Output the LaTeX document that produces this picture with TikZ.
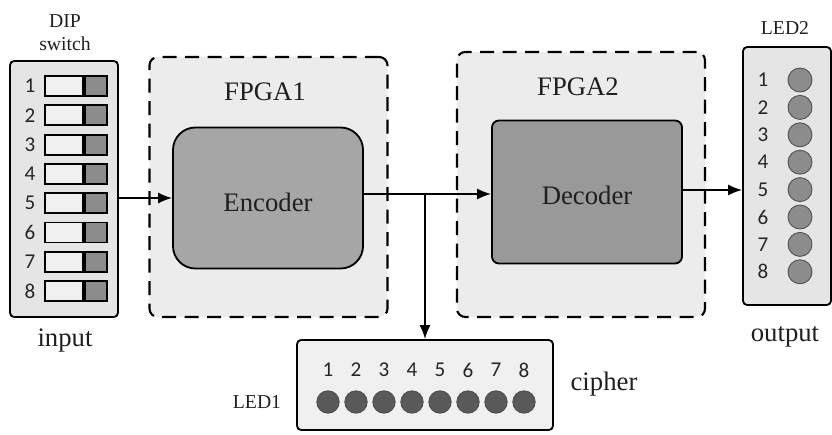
\documentclass[tikz,border=0pt]{standalone}
\usepackage{fontspec}
\setmainfont{Liberation Serif}
\newfontfamily\numfont{Carlito}
\usepackage{tikz}
\usetikzlibrary{arrows.meta, positioning}

\begin{document}
\begin{tikzpicture}[
  x=0.025cm, y=-0.025cm,
  line width=1.3pt,
  lbl/.style={font=\fontsize{19}{22}\selectfont, text=black!88},
  small/.style={font=\fontsize{14}{16.5}\selectfont, text=black!88, align=center},
  num/.style={font=\numfont\fontsize{15}{17}\selectfont, text=black!85},
  panel/.style={draw, rounded corners=3pt, fill=gray!20, inner sep=0pt},
  fpga/.style={draw, dash pattern=on 10pt off 6pt, line width=1.5pt,
               rounded corners=6pt, fill=gray!15, inner sep=0pt},
  block/.style={draw, fill=gray!70, inner sep=0pt, minimum width=4.75cm},
  swoff/.style={draw, fill=gray!12, minimum width=0.95cm, minimum height=0.5cm, inner sep=0pt},
  swon/.style={draw, fill=gray!90, minimum width=0.55cm, minimum height=0.5cm, inner sep=0pt},
  led/.style={circle, draw=black!70, line width=0.6pt, inner sep=0pt},
  arr/.style={-{Latex[length=10pt, width=8pt]}},
  ]
  \useasboundingbox (0,0) rectangle (832,434);

  % --- outer panels ---
  \node[panel, minimum width=2.7cm, minimum height=6.4cm] (dip) at (64,189) {};
  \node[panel, minimum width=2.2cm, minimum height=6.45cm] (led2) at (787,176) {};
  \node[panel, fill=gray!12, minimum width=6.4cm, minimum height=2.25cm] (led1) at (425,385) {};

  % --- FPGA boards ---
  \node[fpga, minimum width=5.95cm, minimum height=6.5cm] (fpga1) at (268.5,187) {};
  \node[fpga, minimum width=6.2cm, minimum height=6.625cm] (fpga2) at (581,184.5) {};
  \node[lbl] (fpga1lbl) at (265,92) {FPGA1};
  \node[lbl] (fpga2lbl) at (578,87) {FPGA2};

  % --- encoder / decoder ---
  \node[block, rounded corners=16pt, minimum height=3.525cm] (enc) at (268,198) {};
  \node[lbl] (enclbl) at (268,202) {Encoder};
  \node[block, fill=gray!80, rounded corners=5pt, minimum height=3.575cm] (dec) at (587,192) {};
  \node[lbl] (declbl) at (587,195) {Decoder};

  % --- DIP switch rows ---
  \foreach \i in {1,...,8} {
    \pgfmathsetmacro{\yy}{86+29.3*(\i-1)}
    \node[num] (dipn\i) at (30,\yy) {\i};
    \node[swoff] (swa\i) at (64,\yy) {};
    \node[swon, right=0pt of swa\i] (swb\i) {};
  }

  % --- LED2 column ---
  \foreach \i in {1,...,8} {
    \pgfmathsetmacro{\yy}{80+27.4*(\i-1)}
    \node[num] (ledbn\i) at (763,\yy) {\i};
    \node[led, fill=gray!90, minimum size=0.6cm] (ledb\i) at (800,\yy) {};
  }

  % --- LED1 row ---
  \foreach \i in {1,...,8} {
    \pgfmathsetmacro{\xx}{328+28*(\i-1)}
    \node[num] (ledan\i) at (\xx,370) {\i};
    \node[led, fill=black!65, minimum size=0.56cm] (leda\i) at (\xx,402) {};
  }

  % --- captions ---
  \node[small] (diplbl) at (65,33) {DIP\\switch};
  \node[lbl] (inlbl) at (65,340) {input};
  \node[small] (led2lbl) at (785,28) {LED2};
  \node[lbl] (outlbl) at (785,337) {output};
  \node[small] (led1lbl) at (257,402) {LED1};
  \node[lbl] (ciplbl) at (604,384) {cipher};

  % --- signal path ---
  \coordinate (br) at (425,194);
  \draw[arr] (dip.east |- enc.west) -- (enc.west);
  \draw[arr] (enc.east |- br) -- (br -| dec.west);
  \draw[arr] (dec.east |- 0,190) -- (led2.west |- 0,190);
  \draw[arr] (br) -- (br |- led1.north);

\end{tikzpicture}
\end{document}
